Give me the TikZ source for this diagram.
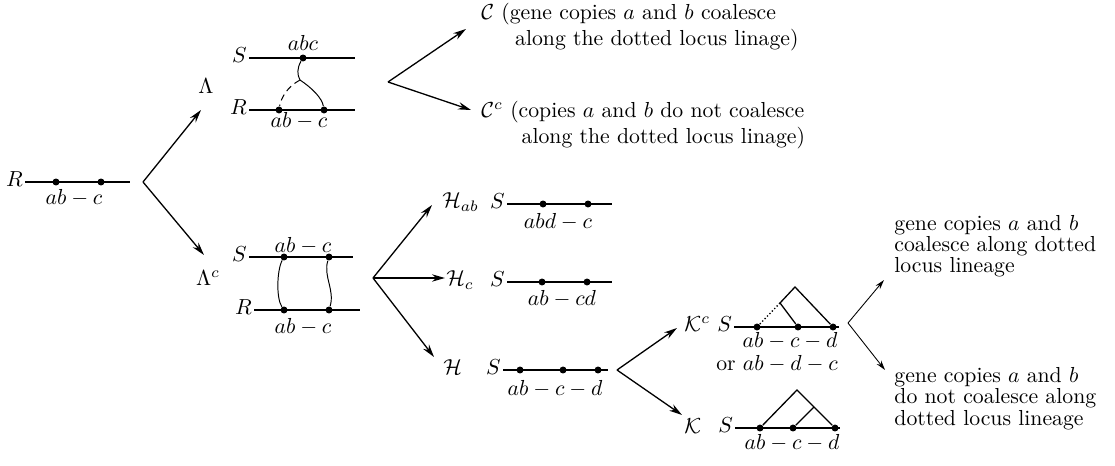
\documentclass[tikz,border=0pt]{standalone}
\usepackage{amsmath,amssymb}
\usepackage{tikz}
\usetikzlibrary{arrows.meta}

\begin{document}
\begin{tikzpicture}[x=0.46pt,y=-0.46pt,
  dot/.style={circle,fill=black,inner sep=0pt,minimum size=3.2pt},
  chrom/.style={line width=1.15pt},
  lineage/.style={line width=0.45pt},
  tree/.style={line width=0.6pt},
  arr/.style={semithick,-{Stealth[length=6pt,width=3.4pt]}},
  smallarr/.style={thin,-{Stealth[length=4.5pt,width=2.6pt]}},
  lab/.style={anchor=east,inner sep=0.8pt},
  event/.style={anchor=base west,inner sep=0pt}]
\useasboundingbox (0,0) rectangle (1115,466);

% start
\draw[chrom] (25,182) -- (130,182);
\node[lab] (r0) at (25,179) {$R$};
\node[dot] (r0a) at (56,182) {};
\node[dot] (r0b) at (101,182) {};
\node (r0lab) at (74,198) {$ab-c$};
\coordinate (v0) at (143,182);
\coordinate (tlam) at (201,110);
\coordinate (tlamc) at (204,255);
\draw[arr] (v0) -- (tlam);
\draw[arr] (v0) -- (tlamc);
\node (lam) at (206,86) {$\Lambda$};
\node (lamc) at (208,278) {$\Lambda^c$};

% Lambda block
\draw[chrom] (249,58) -- (355,58);
\draw[chrom] (249,110) -- (355,110);
\node[lab] (ls) at (249,55) {$S$};
\node[lab] (lr) at (249,107) {$R$};
\node[dot] (la1) at (303,58) {};
\node[dot] (la2) at (279,110) {};
\node[dot] (la3) at (324,110) {};
\coordinate (jn) at (300,80);
\node (latop) at (303,43) {$abc$};
\node (labot) at (299,121) {$ab-c$};
\draw[lineage] (la1) .. controls (297,68) and (297,75) .. (jn);
\draw[lineage,densely dashed] (jn) .. controls (287,87) and (281,98) .. (la2);
\draw[lineage] (jn) .. controls (312,88) and (322,98) .. (la3);

\coordinate (v1) at (388,82);
\coordinate (tc) at (466,29);
\coordinate (tcc) at (471,110);
\draw[arr] (v1) -- (tc);
\draw[arr] (v1) -- (tcc);
\node[anchor=north west,align=left,inner sep=0pt] (ctext) at (481,3)
  {$\mathcal{C}$ (gene copies $a$ and $b$ coalesce\\\hspace*{15.5pt}along the dotted locus linage)};
\node[anchor=north west,align=left,inner sep=0pt] (cctext) at (481,101)
  {$\mathcal{C}^c$ (copies $a$ and $b$ do not coalesce\\\hspace*{18.5pt}along the dotted locus linage)};

% Lambda^c block
\draw[chrom] (249,257) -- (353,257);
\draw[chrom] (254,310) -- (360,310);
\node[lab] (lcs) at (249,254) {$S$};
\node[lab] (lcr) at (254,307) {$R$};
\node[dot] (lc1) at (284,257) {};
\node[dot] (lc2) at (329,257) {};
\node[dot] (lc3) at (284,310) {};
\node[dot] (lc4) at (329,310) {};
\node (lctop) at (303,246) {$ab-c$};
\node (lcbot) at (303,327) {$ab-c$};
\draw[lineage] (lc1) .. controls (277,270) and (276,298) .. (lc3);
\draw[lineage] (lc2) .. controls (323,276) and (335,290) .. (lc4);

\coordinate (v2) at (373,278);
\coordinate (th1) at (432,205);
\coordinate (th2) at (445,278);
\coordinate (th3) at (434,357);
\draw[arr] (v2) -- (th1);
\draw[arr] (v2) -- (th2);
\draw[arr] (v2) -- (th3);

% H rows
\node[event] (hab) at (442,208) {$\mathcal{H}_{ab}$};
\draw[chrom] (507,204) -- (612,204);
\node[lab] (habs) at (507,201) {$S$};
\node[dot] (hab1) at (543,204) {};
\node[dot] (hab2) at (588,204) {};
\node (hablab) at (558,222) {$abd-c$};

\node[event] (hc) at (446,286) {$\mathcal{H}_c$};
\draw[chrom] (507,282) -- (612,282);
\node[lab] (hcs) at (507,279) {$S$};
\node[dot] (hc1) at (542,282) {};
\node[dot] (hc2) at (587,282) {};
\node (hclab) at (562,299) {$ab-cd$};

\node[event] (h) at (443,374) {$\mathcal{H}$};
\draw[chrom] (503,370) -- (608,370);
\node[lab] (hs) at (503,367) {$S$};
\node[dot] (h1) at (520,370) {};
\node[dot] (h2) at (563,370) {};
\node[dot] (h3) at (598,370) {};
\node (hlab) at (555,389) {$ab-c-d$};

\coordinate (v3) at (617,370);
\coordinate (tkc) at (677,328);
\coordinate (tk) at (682,415);
\draw[arr] (v3) -- (tkc);
\draw[arr] (v3) -- (tk);

% K rows
\node[event] (kc) at (684,331) {$\mathcal{K}^c$};
\draw[chrom] (734,327) -- (839,327);
\node[lab] (kcs) at (734,324) {$S$};
\node[dot] (kc1) at (757,327) {};
\node[dot] (kc2) at (798,327) {};
\node[dot] (kc3) at (833,327) {};
\coordinate (kctop) at (795,287);
\coordinate (kcmid) at (780,303);
\draw[tree] (kc3) -- (kctop) -- (kcmid) -- (kc2);
\draw[tree,densely dotted] (kcmid) -- (kc1);
\node[inner sep=0pt] (kclab) at (790,341) {$ab-c-d$};
\node[inner sep=0pt] (kclab2) at (777,364) {or $ab-d-c$};

\node[event] (k) at (684,433) {$\mathcal{K}$};
\draw[chrom] (735,428) -- (840,428);
\node[lab] (ks) at (735,425) {$S$};
\node[dot] (k1) at (760,428) {};
\node[dot] (k2) at (793,428) {};
\node[dot] (k3) at (835,428) {};
\coordinate (ktop) at (797,390);
\coordinate (kmid) at (814,407);
\draw[tree] (k1) -- (ktop) -- (k3);
\draw[tree] (kmid) -- (k2);
\node (klab) at (792,443) {$ab-c-d$};

\coordinate (v4) at (848,323);
\coordinate (tg1) at (884,280);
\coordinate (tg2) at (885,370);
\draw[smallarr] (v4) -- (tg1);
\draw[smallarr] (v4) -- (tg2);
\node[anchor=north west,align=left,inner sep=0pt,font=\fontsize{10pt}{9.6pt}\selectfont] (gtext1) at (894,215)
  {gene copies $a$ and $b$\\coalesce along dotted\\locus lineage};
\node[anchor=north west,align=left,inner sep=0pt,font=\fontsize{10pt}{9.8pt}\selectfont] (gtext2) at (894,367)
  {gene copies $a$ and $b$\\do not coalesce along\\dotted locus lineage};
\end{tikzpicture}
\end{document}
